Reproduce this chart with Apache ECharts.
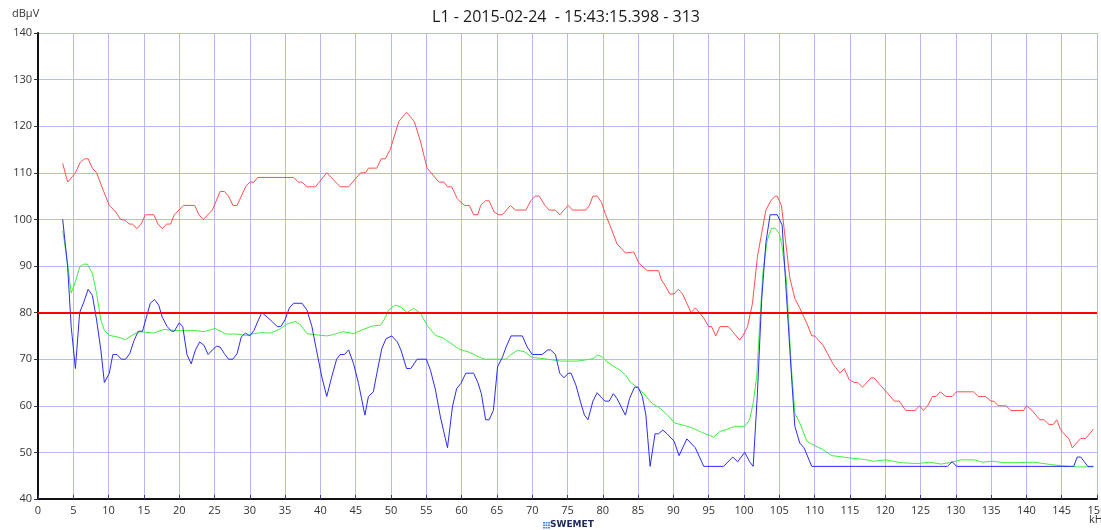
<!DOCTYPE html>
<html>
<head>
<meta charset="utf-8">
<script src="https://cdn.jsdelivr.net/npm/echarts@6/dist/echarts.min.js"></script>
<style>
html,body{margin:0;padding:0;background:#fff;}
#chart{width:1101px;height:530px;}
</style>
</head>
<body>
<div id="chart"></div>
<script>
var titleText = 'L1 - 2015-02-24  - 15:43:15.398 - 313';
var yName = 'dBμV';
var xName = 'kHz';
var thresholdValue = 80;

var redSeries = [[3.5,112],[4.2,108],[5.3,110],[6.0,112.3],[6.6,113],[7.1,113],[7.7,111],[8.3,110],[9.3,106],[10.1,103],[11,101.6],[11.7,100],[12.4,99.8],[12.9,99],[13.4,99],[14,98],[14.6,99],[15.2,101],[16.4,101],[17,99],[17.6,98],[18.2,99],[18.8,99],[19.3,101],[20.6,103],[22.2,103],[22.8,101],[23.4,100],[24.7,102],[25.8,106],[26.4,106],[27,105],[27.6,103],[28.2,103],[29.4,107],[30,108],[30.6,108],[31.1,109],[36.2,109],[36.9,108],[37.4,108],[38.1,107],[39.3,107],[40.9,110],[42.8,107],[44,107],[45.7,110],[46.4,110],[46.8,111],[48,111],[48.6,113],[49.2,113],[49.9,115],[51.1,121],[52.2,123],[53.3,121],[54.2,116.6],[55.1,111],[56.8,108],[57.5,108],[58,107],[58.6,107],[59.4,104.4],[60.4,103],[61.1,103],[61.7,101],[62.3,101],[62.7,103],[63.4,104],[63.9,104],[64.6,101.6],[65.3,101],[65.8,101],[66.9,103],[67.6,102],[69.1,102],[69.8,104],[70.4,105],[71,105],[71.8,103],[72.4,102],[73.3,102],[73.9,101],[75.1,103],[75.7,102],[77.6,102],[78.1,103],[78.6,105],[79.2,105],[79.8,103.7],[80.4,101],[81.1,98.4],[82,94.8],[83.2,92.8],[84.4,93],[85.1,90.6],[86.3,89],[87.9,89],[88.3,87],[88.8,85.9],[89.5,84],[90.1,84],[90.7,85],[91.3,84],[92.5,80],[93.1,81],[93.7,80],[94.3,78.8],[95,77],[95.4,77],[96,75],[96.6,77],[97.8,77],[99.4,74.1],[99.9,75.2],[100.5,77],[101.2,82],[101.9,92],[102.5,97],[103.1,102],[103.8,104],[104.4,105],[104.7,105],[105.3,103],[105.9,95.2],[106.5,87.4],[107.2,83],[107.9,81],[108.9,77.7],[109.6,75],[110,75],[111.2,73],[111.9,71],[112.6,69],[113.6,67],[114.2,68],[114.9,65.6],[115.6,65],[116.1,65],[116.8,64],[118,66],[118.4,66],[121.3,61],[122,61],[122.9,59],[124.2,59],[124.9,60],[125.4,59],[126,60],[126.7,62],[127.2,62],[127.8,63],[128.6,62],[129.5,62],[130.1,63],[132.5,63],[133.2,62],[134.2,62],[135,61],[135.4,61],[136,60],[137.1,60],[137.8,59],[139.6,59],[140,60],[140.8,59],[141.9,57],[142.5,57],[143.2,56],[143.8,56],[144.3,57],[144.8,55],[145.3,54],[146,53],[146.5,51],[147.7,53],[148.4,53],[149.5,55]];

var blueSeries = [[3.5,100],[4.2,89.8],[4.7,77],[5.3,68],[5.9,80],[6.5,82.3],[7.1,85],[7.7,83.7],[8.3,78.4],[8.9,72],[9.4,65],[10.1,67],[10.6,71],[11.2,71],[11.8,70],[12.4,70],[13,71.2],[13.6,74],[14.2,76],[14.8,76],[15.3,78.7],[15.9,82],[16.5,82.8],[17.1,81.6],[17.6,79],[18.3,77],[18.9,76],[19.3,76],[20,77.8],[20.5,77],[21.1,71],[21.7,69],[22.3,72],[22.9,73.7],[23.5,73],[24.1,71],[24.7,72],[25.3,72.8],[25.8,72.6],[26.4,71.2],[27,70],[27.6,70],[28.2,71.2],[28.8,74.8],[29.4,75.6],[30,75],[30.6,76.2],[31.1,78],[31.7,80],[32.5,79],[33.2,78],[33.9,77],[34.4,77],[35,78.5],[35.6,81],[36.2,82],[37.4,82],[38.1,80.5],[38.8,77],[39.4,72.3],[40.2,66.2],[40.9,62],[41.6,66.2],[42.3,70],[42.8,71],[43.4,71],[44,72],[44.7,69],[45.4,64.8],[46.3,58],[46.8,62],[47.5,63],[48,67],[48.7,72.3],[49.3,74.4],[50.1,75],[50.9,73.7],[51.4,72],[52.2,68],[52.8,68],[53.7,70],[55,70],[55.6,67.6],[56.3,63.4],[57,57.6],[58,51],[58.7,59.8],[59.3,63.7],[59.9,64.8],[60.6,67],[61.7,67],[62.3,65],[62.8,62.6],[63.4,57],[63.9,57],[64.5,59],[65.1,68.4],[65.8,70.5],[66.3,72.6],[67,75],[68.6,75],[69.3,72.6],[70,71],[71.4,71],[72.2,72],[72.6,72],[73.3,71],[73.9,67],[74.5,66],[75.1,67],[75.5,67],[76.2,64.4],[76.9,60.5],[77.4,58],[77.9,57],[78.6,61],[79.2,62.8],[79.8,61.8],[80.3,61],[80.9,61],[81.5,62.6],[82,61.6],[83.2,58],[83.8,61.6],[84.5,64],[85,64],[85.6,62],[86.1,58],[86.7,47],[87.4,54],[87.9,54],[88.5,54.8],[89.1,54],[90.1,52.4],[90.8,49.3],[91.9,52.9],[93.1,51],[94.3,47],[97.1,47],[98.4,49],[99.1,48],[100.1,50],[100.8,48],[101.3,47],[101.9,62.7],[102.5,82.7],[103.1,95],[103.7,101],[104.7,101],[105.4,98.8],[106,84],[106.7,67],[107.2,55.6],[107.9,52],[108.5,51],[109.6,47],[128.8,47],[129.5,48],[130.1,47],[146.7,47],[147.2,49],[147.7,49],[148.7,47],[149.5,47]];

var greenSeries = [[3.5,97.6],[4.2,90.5],[4.7,84.2],[5.3,86.6],[5.9,89.8],[6.5,90.4],[7,90.4],[7.7,88.4],[8.3,84.1],[8.9,78.4],[9.4,76.2],[10.1,75.1],[11.2,74.8],[12.4,74.2],[13.6,75.4],[14.5,75.9],[16.4,75.6],[17.8,76.4],[19.2,76.2],[20.7,76.1],[22.1,76.2],[23.5,75.9],[25.1,76.6],[26.6,75.4],[28.2,75.4],[29.6,75.1],[30.3,75.4],[31.5,75.7],[32.9,75.6],[34.3,76.5],[35.2,77.5],[36.4,78.1],[37.1,77.5],[38.1,75.5],[39,75.3],[40.9,75],[41.9,75.3],[43.1,75.9],[44.7,75.5],[46.1,76.4],[47.3,77.1],[48.5,77.3],[49,78.4],[49.7,80.6],[50.6,81.6],[51.4,81.2],[52.2,80],[53.2,80.9],[54.2,79.8],[55.1,77.3],[56.3,75.1],[57.3,74.6],[58.5,73.4],[59.7,72.1],[60.9,71.6],[62,70.8],[63.2,70],[65,70],[66.3,70],[67,71],[67.9,71.9],[68.9,71.6],[70,70.4],[71.7,70.1],[73.1,69.8],[74,69.6],[76.4,69.6],[77.8,69.9],[78.6,70.1],[79.3,70.9],[79.9,70.5],[80.6,69.4],[81.6,68.4],[82.5,67.6],[83.2,66.6],[83.9,65.1],[84.9,63.9],[85.8,62.6],[87,60.5],[88.1,59.5],[89.1,58.1],[90.2,56.3],[91.7,55.7],[92.8,55.2],[94,54.3],[95.7,53.3],[96.6,54.5],[97.5,54.9],[98.7,55.6],[100.1,55.6],[100.8,57],[101.3,60.6],[101.8,66.3],[102.2,77],[102.7,89],[103.3,95.6],[103.9,98.1],[104.4,98.1],[105,97],[105.4,94.1],[106,87],[106.7,68.4],[107.2,58.4],[107.9,56.3],[108.9,52.4],[109.8,51.6],[111.2,50.6],[112.4,49.3],[113.6,49.1],[115,48.8],[116.4,48.6],[117,48.5],[118.4,48.1],[120.1,48.4],[122.2,47.8],[124.6,47.6],[126.2,47.9],[127.9,47.5],[129.1,47.8],[130.7,48.4],[132.6,48.4],[133.8,47.9],[135.2,48.1],[136.8,47.8],[138.7,47.8],[141.1,47.9],[143.4,47.4],[145.3,47.1],[147.2,46.9],[149.5,46.9]];

var chart = echarts.init(document.getElementById('chart'), null, {renderer:'canvas'});
var fontFam = '"Open Sans", "DejaVu Sans", sans-serif';
function lineSeries(name, data, color){
  return {name:name, type:'line', data:data, symbol:'none', smooth:false,
    lineStyle:{color:color, width:1}, itemStyle:{color:color}, animation:false, z:3};
}
var option = {
  animation:false,
  backgroundColor:'#fff',
  grid:{left:38, right:4, top:33, bottom:31, containLabel:false, outerBoundsMode:'none'},
  xAxis:{type:'value', min:0, max:150, interval:5,
    axisLine:{show:true, onZero:false, lineStyle:{color:'#111', width:2}},
    axisTick:{show:true, inside:true, length:4, lineStyle:{color:'#3a3a8a'}},
    axisLabel:{color:'#333', fontSize:11, fontFamily:fontFam, margin:6, showMaxLabel:true, hideOverlap:false},
    splitLine:{show:true, lineStyle:{color:'#b8b8f4', width:1}}},
  yAxis:{type:'value', min:40, max:140, interval:10,
    axisLine:{show:true, onZero:false, lineStyle:{color:'#111', width:2}},
    axisTick:{show:true, length:4, lineStyle:{color:'#333'}},
    axisLabel:{color:'#333', fontSize:11, fontFamily:fontFam, margin:6},
    splitLine:{show:true, lineStyle:{color:'#b8b8f4', width:1}}},
  graphic:[
    {type:'text', x:566, y:9, style:{text:titleText, fill:'#1a1a1a', font:'16px '+fontFam, textAlign:'center'}},
    {type:'text', left:12, top:8, style:{text:yName, fill:'#333', font:'11px '+fontFam}},
    {type:'text', left:1089, top:514, style:{text:xName, fill:'#333', font:'11px '+fontFam}},
    {type:'group', left:543, top:522, children:[
      {type:'rect', shape:{x:0,y:0,width:2,height:1.5}, style:{fill:'#4a8ae0'}},
      {type:'rect', shape:{x:2.5,y:0,width:2,height:1.5}, style:{fill:'#4a8ae0'}},
      {type:'rect', shape:{x:5,y:0,width:2,height:1.5}, style:{fill:'#4a8ae0'}},
      {type:'rect', shape:{x:0,y:2.5,width:2,height:1.5}, style:{fill:'#4a8ae0'}},
      {type:'rect', shape:{x:2.5,y:2.5,width:2,height:1.5}, style:{fill:'#4a8ae0'}},
      {type:'rect', shape:{x:5,y:2.5,width:2,height:1.5}, style:{fill:'#4a8ae0'}},
      {type:'rect', shape:{x:0,y:5,width:2,height:1.5}, style:{fill:'#4a8ae0'}},
      {type:'rect', shape:{x:2.5,y:5,width:2,height:1.5}, style:{fill:'#4a8ae0'}},
      {type:'rect', shape:{x:5,y:5,width:2,height:1.5}, style:{fill:'#4a8ae0'}}
    ]},
    {type:'text', left:550, top:520, style:{text:'SWEMET', fill:'#1b2a5a', font:'bold 9px "DejaVu Sans", sans-serif'}}
  ],
  series:[
    lineSeries('Peak', redSeries, '#ff5050'),
    lineSeries('Avg', greenSeries, '#3ef03e'),
    lineSeries('QP', blueSeries, '#2d2df0'),
    {name:'Limit', type:'line', data:[], symbol:'none',
      markLine:{silent:true, symbol:'none', label:{show:false},
        lineStyle:{color:'#ff0000', width:2, type:'solid'},
        data:[{yAxis:thresholdValue}]}, z:4}
  ]
};
chart.setOption(option);
</script>
</body>
</html>
